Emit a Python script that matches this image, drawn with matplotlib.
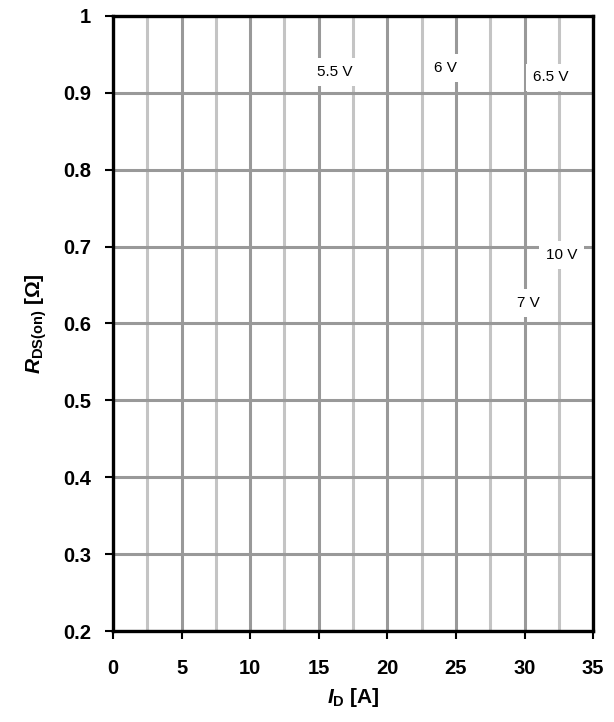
import numpy as np
import matplotlib.pyplot as plt
from matplotlib.ticker import MultipleLocator

plt.rcParams['font.family'] = ['Liberation Sans', 'DejaVu Sans']
plt.rcParams['mathtext.fontset'] = 'custom'
plt.rcParams['mathtext.it'] = 'Liberation Sans:italic:bold'
plt.rcParams['mathtext.bf'] = 'Liberation Sans:bold'
plt.rcParams['mathtext.rm'] = 'Liberation Sans:bold'

# curve labels (gate voltage) and where they sit
curve_labels = ['5.5 V', '6 V', '6.5 V', '10 V', '7 V']
label_x = [16.2, 24.2, 31.9, 32.7, 30.3]
label_y = [0.927, 0.932, 0.920, 0.689, 0.627]

x_ticks = np.arange(0, 36, 5)
y_ticks = np.round(np.arange(0.2, 1.01, 0.1), 1)

dark = '#999999'
light = '#c4c4c4'

fig = plt.figure(figsize=(6.14, 7.22), dpi=100)
ax = fig.add_axes([0.184, 0.126, 0.782, 0.852])

ax.set_xlim(0, 35)
ax.set_ylim(0.2, 1.0)
ax.set_xticks(x_ticks)
ax.set_yticks(y_ticks)
ax.set_yticklabels(['1' if v == 1.0 else f'{v:.1f}' for v in y_ticks])
ax.xaxis.set_minor_locator(MultipleLocator(2.5))

ax.grid(which='major', axis='both', color=dark, linewidth=2.2, zorder=0)
ax.grid(which='minor', axis='x', color=light, linewidth=2.2, zorder=0)
ax.set_axisbelow(True)

ax.tick_params(which='minor', length=0)
ax.tick_params(which='major', direction='out', length=6, width=1.5, color='black')
ax.tick_params(axis='x', pad=14)
ax.tick_params(axis='y', pad=10)
for lab in ax.get_xticklabels() + ax.get_yticklabels():
    lab.set_fontweight('bold')
    lab.set_fontsize(14.5)

for s in ax.spines.values():
    s.set_linewidth(2.4)
    s.set_color('black')

for txt, x, y in zip(curve_labels, label_x, label_y):
    ax.text(x, y, txt, fontsize=11, ha='center', va='center', zorder=3,
            bbox=dict(boxstyle='square,pad=0.45', facecolor='white', edgecolor='none'))

ax.set_xlabel(r'$\mathit{I}_{\mathbf{D}}$ [A]', fontsize=15, fontweight='bold', labelpad=6)
ax.set_ylabel(r'$\mathit{R}_{\mathbf{DS(on)}}$ [Ω]', fontsize=15, fontweight='bold', labelpad=10)

fig.savefig('out.png', dpi=100)
